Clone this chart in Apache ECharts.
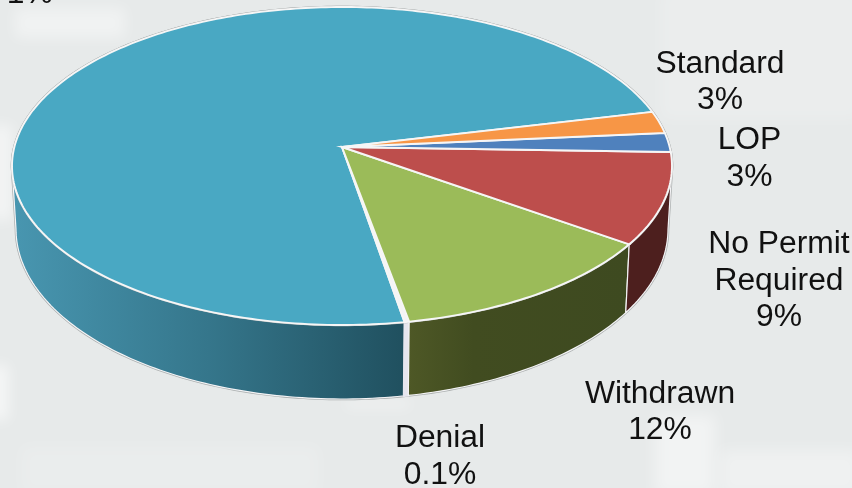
<!DOCTYPE html>
<html>
<head>
<meta charset="utf-8">
<style>html,body{margin:0;padding:0;background:#e8ebea}#c{width:852px;height:488px}</style>
<script src="https://cdn.jsdelivr.net/npm/echarts@6/dist/echarts.min.js"></script>
</head>
<body>
<div id="c"></div>
<script>
// --- data ---
const categories = ['Standard', 'LOP', 'No Permit\nRequired', 'Withdrawn', 'Denial', ''];
const sliceShares = [2.25, 1.95, 9.3, 12.3, 0.2, 74.0];      // share of the pie as drawn (%)
const percentLabels = ['3%', '3%', '9%', '12%', '0.1%', '71%'];

// --- styling / layout ---
const topColors = ['#F79646', '#4F81BD', '#BD4E4C', '#9BBB59', '#F4F4F6', '#49A8C3'];
const wallColors = [
  '#9a5a28', '#2f4d72', '#4D1F1E',
  {type:'linear',x:408,y:0,x2:625,y2:0,global:true,colorStops:[{offset:0,color:'#4E5826'},{offset:.3,color:'#414C20'},{offset:1,color:'#3E4A20'}]},
  '#E6E6EE',
  {type:'linear',x:14,y:0,x2:404,y2:0,global:true,colorStops:[{offset:0,color:'#4896B0'},{offset:.5,color:'#35768B'},{offset:1,color:'#20505F'}]}
];
const labelCenters = [[720,82.5],[749.5,159],[779,281],[660,412.5],[440,457],[21,13]];
const startAngle = -13.3;
const K = 0.1195;
const WALL_FROM = 7, WALL_TO = 173;
const topRim = {cx:342, cy:166, rx:330, ry:159};
const botRim = {cx:342, cy:229, rx:326, ry:170};

function rimPoint(e, deg){
  const a = deg*Math.PI/180, X = Math.cos(a), Y = Math.sin(a), w = 1 - K*Y;
  const su = e.rx*Math.sqrt(1-K*K), sv = e.ry*(1-K*K), ay = e.cy - K*e.ry;
  return [e.cx + su*X/w, ay + sv*Y/w];
}
function apex(e){ return [e.cx, e.cy - K*e.ry]; }
function arcPts(e, a0, a1){
  const n = Math.max(1, Math.ceil(Math.abs(a1-a0))), out = [];
  for(let i=0;i<=n;i++) out.push(rimPoint(e, a0+(a1-a0)*i/n));
  return out;
}
const total = sliceShares.reduce((a,b)=>a+b,0);
function range(i){
  let s = startAngle;
  for(let j=0;j<i;j++) s += sliceShares[j]/total*360;
  return [s, s + sliceShares[i]/total*360];
}
const rows = sliceShares.map((v,i)=>[i,v]);
const rowsBackToFront = rows.slice().reverse();

const chart = echarts.init(document.getElementById('c'), null, {renderer:'canvas'});
// soft light blotches of the backdrop: only the blurred shadow falls on the canvas
const OFF = 3000;
const patch = (x,y,w,h,o)=>({type:'rect',silent:true,shape:{x:x-OFF,y,width:w,height:h},
  style:{fill:'#fff',shadowBlur:14,shadowOffsetX:OFF,shadowColor:'rgba(255,255,255,'+o+')'}});
chart.setOption({
  animation:false,
  backgroundColor:'#e7eaea',
  graphic:[
    patch(15,8,110,30,.4), patch(-10,125,22,95,.5), patch(660,-10,200,130,.18),
    patch(-10,365,18,55,.6), patch(655,415,60,80,.45), patch(720,450,140,45,.35),
    patch(20,445,300,50,.15), patch(345,400,65,8,.4)
  ],
  series:[
    { // silhouette
      type:'custom', coordinateSystem:'none', z:2, silent:true,
      data:[[0]],
      renderItem(){
        const pts = arcPts(topRim,WALL_TO-360,WALL_FROM).concat(arcPts(botRim,WALL_FROM,WALL_TO));
        return {type:'polygon',shape:{points:pts},style:{fill:'none',stroke:'#a9adad',lineWidth:2.6}};
      }
    },
    { // walls
      type:'custom', coordinateSystem:'none', z:3, silent:true,
      data:rowsBackToFront,
      renderItem(p,api){
        const i = api.value(0);
        const r = range(i);
        const a0 = Math.max(r[0],WALL_FROM), a1 = Math.min(r[1],WALL_TO);
        if(a1<=a0) return {type:'group',children:[]};
        const pts = arcPts(topRim,a0,a1).concat(arcPts(botRim,a1,a0));
        return {type:'polygon',shape:{points:pts},style:{fill:wallColors[i],stroke:i===4?'#E6E6EE':'#f4f4f6',lineWidth:i===4?2:1.2,lineJoin:'round'}};
      }
    },
    { // top rim halo
      type:'custom', coordinateSystem:'none', z:4, silent:true,
      data:[[0]],
      renderItem(){
        return {type:'polygon',shape:{points:arcPts(topRim,0,360)},style:{fill:'#fff',stroke:'#b3b6b6',lineWidth:2.4}};
      }
    },
    { // top faces
      type:'custom', coordinateSystem:'none', z:5, silent:true,
      data:rowsBackToFront,
      renderItem(p,api){
        const i = api.value(0);
        const r = range(i);
        const pts = [apex(topRim)].concat(arcPts(topRim,r[0],r[1]));
        return {type:'polygon',shape:{points:pts},style:{fill:topColors[i],stroke:'#f6f6f6',lineWidth:1.9,lineJoin:'miter'}};
      }
    },
    { // labels
      type:'custom', coordinateSystem:'none', z:6, silent:true,
      data:rows,
      renderItem(p,api){
        const i = api.value(0);
        const c = labelCenters[i];
        const txt = categories[i] ? categories[i]+'\n'+percentLabels[i] : percentLabels[i];
        return {type:'text',x:c[0],y:c[1],scaleX:1.026,
          style:{text:txt,x:0,y:0,align:'center',verticalAlign:i===5?'bottom':'middle',lineHeight:36.7,
            fontFamily:'"Liberation Sans",Arial,sans-serif',fontSize:31,fill:'#111'}};
      }
    }
  ]
});
</script>
</body>
</html>
